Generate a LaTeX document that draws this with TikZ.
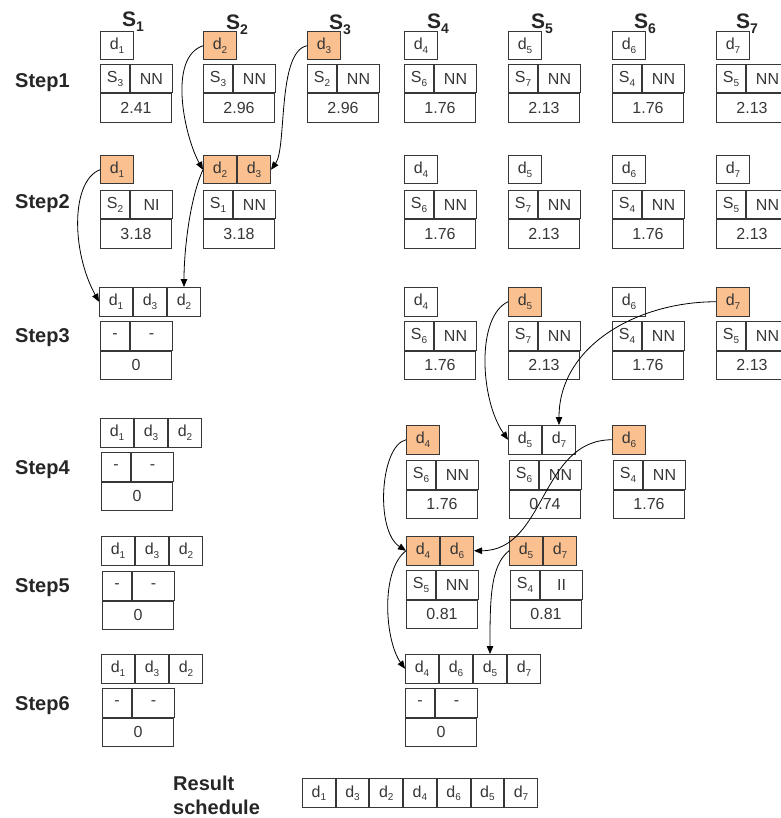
\documentclass[tikz,border=0pt]{standalone}
\usepackage{fontspec}
\setmainfont{Liberation Sans}
\usetikzlibrary{arrows.meta}
\definecolor{hotc}{RGB}{250,192,143}
\definecolor{linec}{RGB}{55,55,55}
\definecolor{txtc}{RGB}{55,55,55}
\newcommand\dx[1]{d\raisebox{-3.5pt}{\fontsize{10}{10}\selectfont #1}}
\newcommand\Sx[1]{S\raisebox{-3.5pt}{\fontsize{10}{10}\selectfont #1}}
\newcommand\Sh[1]{S\raisebox{-5pt}{\fontsize{14}{14}\selectfont #1}}
\newcommand\tb[6]{%
  \node[tleft] (#1a) at (#2,-#3) {#4};
  \node[tright] (#1b) at (#1a.north east) {#5};
  \node[tval] (#1c) at (#1a.south west) {#6};}
\tikzset{
  cellbase/.style={draw=linec, line width=1pt, inner sep=0pt, text=txtc,
    font=\fontsize{16}{16}\selectfont, anchor=north west},
  dbox/.style={cellbase, minimum width=33pt, minimum height=28.5pt},
  rbox/.style={cellbase, minimum width=32.7pt, minimum height=29pt},
  hot/.style={fill=hotc},
  tleft/.style={cellbase, minimum width=29pt, minimum height=28.5pt},
  tright/.style={cellbase, minimum width=42pt, minimum height=28.5pt},
  tval/.style={cellbase, minimum width=71pt, minimum height=28.5pt},
  steplbl/.style={font=\bfseries\fontsize{20}{20}\selectfont, anchor=west, inner sep=0pt, text=black!85},
  hdr/.style={font=\bfseries\fontsize{21}{21}\selectfont, inner sep=0pt, text=black!85},
  link/.style={draw=black, line width=0.8pt, -{Triangle[length=8pt,width=6.5pt]}},
}
\begin{document}
\begin{tikzpicture}[x=1pt,y=1pt]
\fill[white] (0,0) rectangle (780,-818);
\useasboundingbox (0,0) rectangle (780,-818);

% headers
\node[hdr] (h1) at (133,-22) {\Sh{1}};
\node[hdr] (h2) at (237,-24.5) {\Sh{2}};
\node[hdr] (h3) at (340,-24.5) {\Sh{3}};
\node[hdr] (h4) at (438,-24) {\Sh{4}};
\node[hdr] (h5) at (542,-24) {\Sh{5}};
\node[hdr] (h6) at (645,-24) {\Sh{6}};
\node[hdr] (h7) at (747,-24) {\Sh{7}};

% step labels
\node[steplbl] (l1) at (15,-83) {Step1};
\node[steplbl] (l2) at (15,-204) {Step2};
\node[steplbl] (l3) at (15,-338) {Step3};
\node[steplbl] (l4) at (15,-470) {Step4};
\node[steplbl] (l5) at (15,-588) {Step5};
\node[steplbl] (l6) at (15,-706) {Step6};
\node[steplbl] (res1) at (173,-783) {Result};
\node[steplbl] (res2) at (173,-807) {schedule};

% Step 1
\node[dbox] (a1) at (100,-31) {\dx{1}};
\node[dbox,hot] (a2) at (203,-31) {\dx{2}};
\node[dbox,hot] (a3) at (307,-31) {\dx{3}};
\node[dbox] (a4) at (404,-31) {\dx{4}};
\node[dbox] (a5) at (508,-31) {\dx{5}};
\node[dbox] (a6) at (612,-31) {\dx{6}};
\node[dbox] (a7) at (716,-31) {\dx{7}};
\tb{ta1}{100}{64}{\Sx{3}}{NN}{2.41}
\tb{ta2}{203}{64}{\Sx{3}}{NN}{2.96}
\tb{ta3}{307}{64}{\Sx{2}}{NN}{2.96}
\tb{ta4}{404}{64}{\Sx{6}}{NN}{1.76}
\tb{ta5}{508}{64}{\Sx{7}}{NN}{2.13}
\tb{ta6}{612}{64}{\Sx{4}}{NN}{1.76}
\tb{ta7}{716}{64}{\Sx{5}}{NN}{2.13}

% Step 2
\node[dbox,hot] (b1) at (100,-155) {\dx{1}};
\node[dbox,hot] (b2) at (203,-155) {\dx{2}};
\node[dbox,hot] (b3) at (b2.north east) {\dx{3}};
\node[dbox] (b4) at (404,-155) {\dx{4}};
\node[dbox] (b5) at (508,-155) {\dx{5}};
\node[dbox] (b6) at (612,-155) {\dx{6}};
\node[dbox] (b7) at (716,-155) {\dx{7}};
\tb{tb1}{100}{190}{\Sx{2}}{NI}{3.18}
\tb{tb2}{203}{190}{\Sx{1}}{NN}{3.18}
\tb{tb4}{404}{190}{\Sx{6}}{NN}{1.76}
\tb{tb5}{508}{190}{\Sx{7}}{NN}{2.13}
\tb{tb6}{612}{190}{\Sx{4}}{NN}{1.76}
\tb{tb7}{716}{190}{\Sx{5}}{NN}{2.13}

% Step 3
\node[dbox] (c1) at (99,-287) {\dx{1}};
\node[dbox] (c3) at (c1.north east) {\dx{3}};
\node[dbox] (c2) at (c3.north east) {\dx{2}};
\tb{tc1}{100}{321}{-}{-}{0}
\node[dbox] (c4) at (404,-287) {\dx{4}};
\node[dbox,hot] (c5) at (508,-287) {\dx{5}};
\node[dbox] (c6) at (612,-287) {\dx{6}};
\node[dbox,hot] (c7) at (716,-287) {\dx{7}};
\tb{tc4}{404}{321}{\Sx{6}}{NN}{1.76}
\tb{tc5}{508}{321}{\Sx{7}}{NN}{2.13}
\tb{tc6}{612}{321}{\Sx{4}}{NN}{1.76}
\tb{tc7}{716}{321}{\Sx{5}}{NN}{2.13}

% Step 4
\node[dbox] (e1) at (100,-418) {\dx{1}};
\node[dbox] (e3) at (e1.north east) {\dx{3}};
\node[dbox] (e2) at (e3.north east) {\dx{2}};
\tb{te1}{101}{452}{-}{-}{0}
\node[dbox,hot] (e4) at (406,-425) {\dx{4}};
\tb{te4}{406}{460}{\Sx{6}}{NN}{1.76}
\node[dbox] (e5) at (508,-425) {\dx{5}};
\node[dbox] (e7) at (e5.north east) {\dx{7}};
\tb{te5}{509}{460}{\Sx{6}}{NN}{0.74}
\node[dbox,hot] (e6) at (612,-425) {\dx{6}};
\tb{te6}{613}{460}{\Sx{4}}{NN}{1.76}

% Step 5
\node[dbox] (f1) at (101,-536) {\dx{1}};
\node[dbox] (f3) at (f1.north east) {\dx{3}};
\node[dbox] (f2) at (f3.north east) {\dx{2}};
\tb{tf1}{102}{571}{-}{-}{0}
\node[dbox,hot] (f4) at (406,-536) {\dx{4}};
\node[dbox,hot] (f6) at (f4.north east) {\dx{6}};
\tb{tf4}{406}{570}{\Sx{5}}{NN}{0.81}
\node[dbox,hot] (f5) at (509,-536) {\dx{5}};
\node[dbox,hot] (f7) at (f5.north east) {\dx{7}};
\tb{tf5}{510}{570}{\Sx{4}}{II}{0.81}

% Step 6
\node[dbox] (g1) at (101,-654) {\dx{1}};
\node[dbox] (g3) at (g1.north east) {\dx{3}};
\node[dbox] (g2) at (g3.north east) {\dx{2}};
\tb{tg1}{102}{688}{-}{-}{0}
\node[dbox] (g4) at (405,-654) {\dx{4}};
\node[dbox] (g6) at (g4.north east) {\dx{6}};
\node[dbox] (g5) at (g6.north east) {\dx{5}};
\node[dbox] (g7) at (g5.north east) {\dx{7}};
\tb{tg4}{405}{688}{-}{-}{0}

% Result schedule
\node[rbox] (r1) at (302,-778) {\dx{1}};
\node[rbox] (r2) at (r1.north east) {\dx{3}};
\node[rbox] (r3) at (r2.north east) {\dx{2}};
\node[rbox] (r4) at (r3.north east) {\dx{4}};
\node[rbox] (r5) at (r4.north east) {\dx{6}};
\node[rbox] (r6) at (r5.north east) {\dx{5}};
\node[rbox] (r7) at (r6.north east) {\dx{7}};

% connectors
\draw[link] (a2.west) .. controls +(-36,-12) and +(-18,32) .. (b2.west);
\draw[link] (a3.west) .. controls +(-30,-6) and +(16,22) .. (b3.east);
\draw[link] (b1.west) .. controls +(-29,-11) and +(-28,51) .. (c1.west);
\draw[link] (b2.west) .. controls +(-13,-28) and +(0,37) .. (c2.north);
\draw[link] (c5.west) .. controls +(-32,-15) and +(-28,40) .. (e5.west);
\draw[link] (c7.west) .. controls +(-79,0) and +(0,79) .. (e7.north);
\draw[link] (e6.west) .. controls +(-72,0) and +(72,0) .. (f6.east);
\draw[link] (e4.west) .. controls +(-26,-6) and +(-31,20) .. (f4.west);
\draw[link] (f4.west) .. controls +(-26,-20) and +(-20,28) .. (g4.west);
\draw[link] (f5.west) .. controls +(-19,-15) and +(0,53) .. (g5.north);
\end{tikzpicture}
\end{document}
